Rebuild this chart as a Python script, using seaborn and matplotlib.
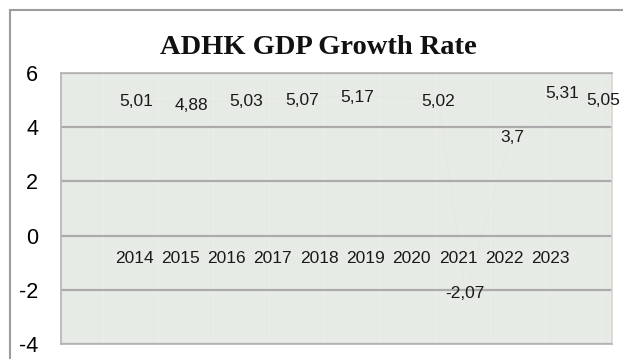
import matplotlib
matplotlib.use("Agg")
import matplotlib.pyplot as plt
from matplotlib.patches import Rectangle
import seaborn as sns
import pandas as pd

# ---- data ----
years = ["2014", "2015", "2016", "2017", "2018", "2019", "2020", "2021", "2022", "2023"]
growth = [5.01, 4.88, 5.03, 5.07, 5.17, 5.02, -2.07, 3.7, 5.31, 5.05]
labels = ["5,01", "4,88", "5,03", "5,07", "5,17", "5,02", "-2,07", "3,7", "5,31", "5,05"]
# horizontal position (in the chart's own slot units) where each point/label sits
point_pos = [0.0, 1.0, 2.0, 3.0, 4.0, 5.47, 5.95, 6.8, 7.7, 8.45]
year_ticks = list(range(len(years)))
y_ticks = [-4, -2, 0, 2, 4, 6]

df = pd.DataFrame({"pos": point_pos, "growth": growth, "label": labels})

sns.set_style("white")
plt.rcParams["font.family"] = ["Liberation Sans", "DejaVu Sans"]

W, H = 623, 359
fig = plt.figure(figsize=(W / 100, H / 100), dpi=100)
fig.patch.set_facecolor("white")

# outer chart frame (clipped on right/bottom like reference)
fig.patches.append(Rectangle((10 / W, -0.2), 1.2, 1.2 - 10 / H,
                             transform=fig.transFigure, fill=False,
                             edgecolor="#9c9c9c", linewidth=1.5))

L, R, T, B = 61, 612, 73, 344
ax = fig.add_axes([L / W, (H - B) / H, (R - L) / W, (B - T) / H])
ax.set_facecolor("#e7ebe5")

sns.lineplot(data=df, x="pos", y="growth", ax=ax, color="#6fb35a",
             alpha=0.03, linewidth=1.0, legend=False)

unit = 55.3
x0 = 136
ax.set_xlim((L - x0) / unit, (R - x0) / unit)
ax.set_ylim(-4, 6)
ax.set_yticks(y_ticks)
ax.set_yticklabels([str(v) for v in y_ticks])
ax.tick_params(axis="y", length=0, pad=16.5, labelsize=15.5, labelcolor="black")
ax.set_xticks([])
ax.set_xlabel("")
ax.set_ylabel("")

# faint vertical separators
for k in range(-1, 9):
    ax.axvline(0.4 + k, color="#ebefe9", linewidth=1.0, zorder=0.5)
for v in y_ticks:
    ax.axhline(v, color="#ababab", linewidth=1.6, zorder=1)

for sp in ax.spines.values():
    sp.set_color("#b3b3b3")
    sp.set_linewidth(1.2)
ax.spines["right"].set_color("#d5d8d3")

# data labels
for _, r in df.iterrows():
    ax.text(r["pos"], r["growth"] - 0.08, r["label"], ha="center", va="center",
            fontsize=12.5, color="#1a1a1a", zorder=3)

# category axis sitting on y = 0 with labels inside the plot
ax2 = ax.twiny()
step = 46.3
c0 = 134
ax2.set_xlim((L - c0) / step, (R - c0) / step)
ax2.xaxis.set_ticks_position("bottom")
ax2.xaxis.set_label_position("bottom")
ax2.spines["bottom"].set_position(("data", 0))
ax2.set_xticks(year_ticks)
ax2.set_xticklabels(years)
for sp in ax2.spines.values():
    sp.set_visible(False)
ax2.tick_params(axis="x", length=0, pad=11, labelsize=12.5, labelcolor="#1a1a1a")
ax2.set_facecolor("none")

fig.text(318.5 / W, 1 - 47 / H, "ADHK GDP Growth Rate", ha="center", va="center",
         fontsize=20.5, fontweight="bold", family=["Liberation Serif", "DejaVu Serif"],
         color="#111111")

fig.savefig("out.png", dpi=100)
